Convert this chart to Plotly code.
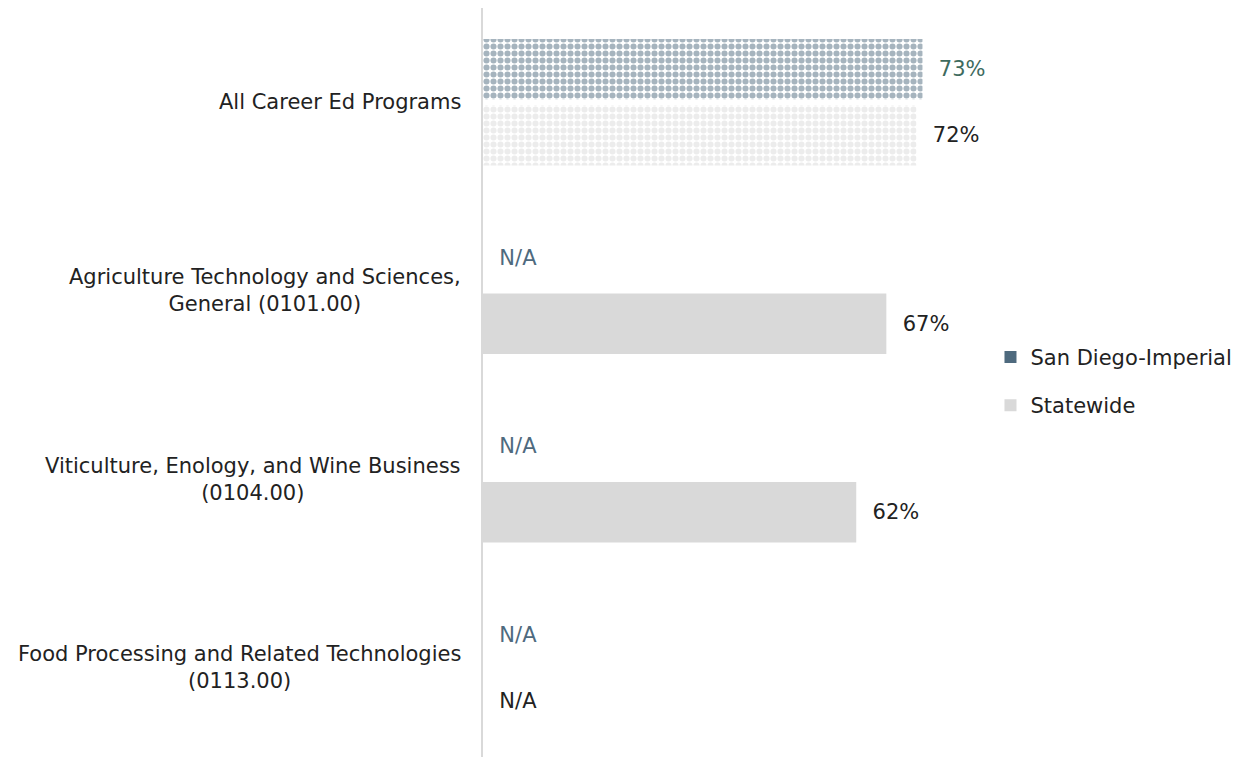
import plotly.graph_objects as go

categories = [
    "All Career Ed Programs",
    "Agriculture Technology and Sciences,<br>General (0101.00)",
    "Viticulture, Enology, and Wine Business<br>(0104.00)",
    "Food Processing and Related Technologies<br>(0113.00)",
]
san_diego = [73, None, None, None]
statewide = [72, 67, 62, None]
series_names = ["San Diego-Imperial", "Statewide"]

SD_COLOR = "#4E6A7E"
SW_COLOR = "#D9D9D9"
FONT = "DejaVu Sans"
FS = 21

def plot_vals(vals):
    return [0 if v is None else v for v in vals]

def labels(vals):
    return ["\u00a0\u00a0" + ("N/A" if v is None else f"{v}%") for v in vals]

fig = go.Figure()
fig.add_trace(go.Bar(
    y=categories, x=plot_vals(san_diego), orientation="h", name=series_names[0],
    marker=dict(color="white", line=dict(width=0),
                pattern=dict(shape=".", fgcolor=SD_COLOR, bgcolor="white", size=7, solidity=0.6)),
    text=labels(san_diego), textposition="outside", cliponaxis=False,
    textfont=dict(family=FONT, size=FS,
                  color=["#3E6B5E" if v is not None else "#4E6A7E" for v in san_diego]),
    showlegend=False, hoverinfo="skip",
))
fig.add_trace(go.Bar(
    y=categories, x=plot_vals(statewide), orientation="h", name=series_names[1],
    marker=dict(color=SW_COLOR, line=dict(width=0),
                pattern=dict(shape=[".", "", "", ""], fgcolor=SW_COLOR, bgcolor="white", size=7, solidity=0.6)),
    text=labels(statewide), textposition="outside", cliponaxis=False,
    textfont=dict(family=FONT, size=FS, color="#222222"),
    showlegend=False, hoverinfo="skip",
))
# legend swatches (solid squares)
fig.add_trace(go.Scatter(x=[None], y=[None], mode="markers", name=series_names[0],
                         marker=dict(symbol="square", size=12, color=SD_COLOR), legendgroup="a"))
fig.add_trace(go.Scatter(x=[None], y=[None], mode="markers", name=series_names[1],
                         marker=dict(symbol="square", size=12, color=SW_COLOR), legendgroup="b"))

for c in categories:
    fig.add_annotation(x=0, xref="paper", y=c, yref="y", text=c, showarrow=False,
                       xanchor="right", align="center", xshift=-20,
                       font=dict(family=FONT, size=FS, color="#222222"))

fig.update_layout(
    width=1235, height=754,
    margin=dict(l=475, r=158, t=0, b=0, autoexpand=False),
    paper_bgcolor="white", plot_bgcolor="white",
    barmode="group", bargap=0.3, bargroupgap=0.08,
    font=dict(family=FONT, size=FS, color="#222222"),
    xaxis=dict(range=[0, 100], visible=False, fixedrange=True, automargin=False),
    yaxis=dict(autorange="reversed", showticklabels=False, ticks="", automargin=False,
               showline=True, linecolor="#D9D9D9", linewidth=2, showgrid=False),
    legend=dict(x=0.843, y=0.505, xanchor="left", yanchor="middle",
                traceorder="grouped", tracegroupgap=18, itemwidth=30,
                font=dict(family=FONT, size=FS, color="#222222")),
)

fig.write_html("out.html")
